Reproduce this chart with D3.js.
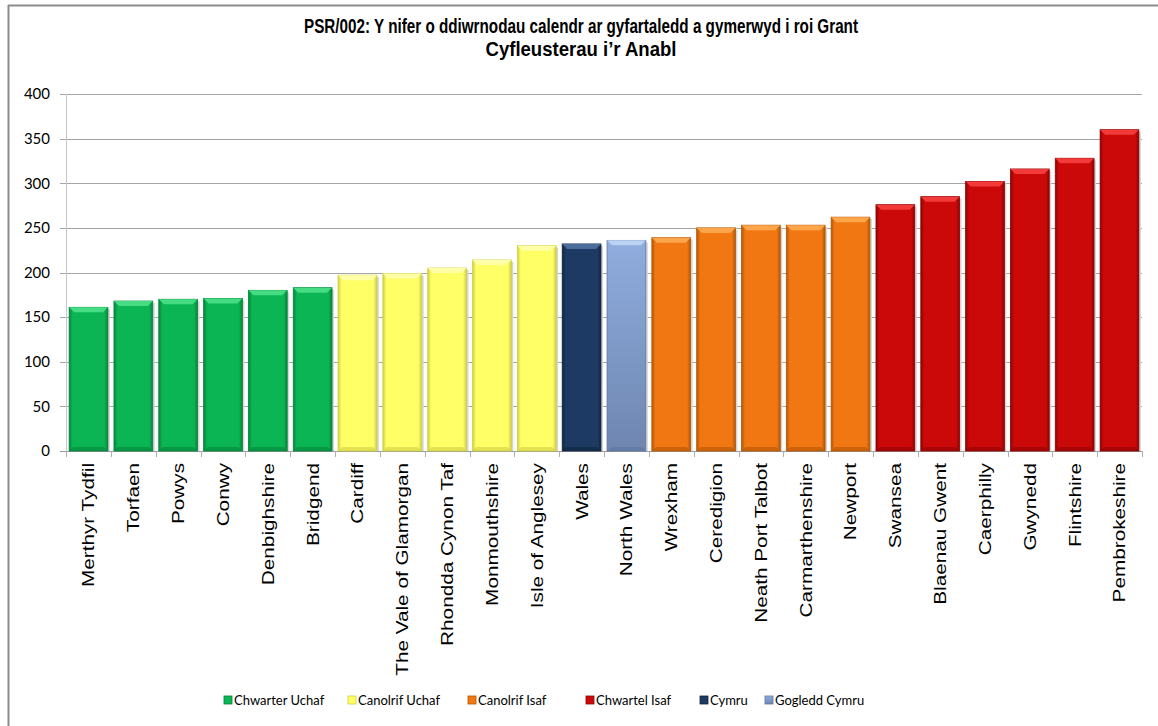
<!DOCTYPE html>
<html>
<head>
<meta charset="utf-8">
<script src="https://cdn.jsdelivr.net/npm/d3@7"></script>
<style>
  body { margin: 0; background: #fff; }
  svg { display: block; }
</style>
</head>
<body>
<script>
const categories = ['Merthyr Tydfil', 'Torfaen', 'Powys', 'Conwy', 'Denbighshire', 'Bridgend',
  'Cardiff', 'The Vale of Glamorgan', 'Rhondda Cynon Taf', 'Monmouthshire', 'Isle of Anglesey',
  'Wales', 'North Wales', 'Wrexham', 'Ceredigion', 'Neath Port Talbot', 'Carmarthenshire',
  'Newport', 'Swansea', 'Blaenau Gwent', 'Caerphilly', 'Gwynedd', 'Flintshire', 'Pembrokeshire'];
const values = [161, 168, 170, 171, 180, 183, 197, 199, 205, 214, 230, 232, 236, 239, 250, 253,
  253, 262, 276, 285, 302, 316, 328, 360];
// group index of every bar (see groupNames)
const groups = [0, 0, 0, 0, 0, 0, 1, 1, 1, 1, 1, 4, 5, 2, 2, 2, 2, 2, 3, 3, 3, 3, 3, 3];
const groupNames = ['Chwarter Uchaf', 'Canolrif Uchaf', 'Canolrif Isaf', 'Chwartel Isaf', 'Cymru', 'Gogledd Cymru'];
const yTicks = [0, 50, 100, 150, 200, 250, 300, 350, 400];

// base, light top, dark edge
const palette = [
  ['#0bb553', '#45dc83', '#06833b'],
  ['#ffff66', '#ffffa8', '#cfcf45'],
  ['#f07712', '#fba64a', '#b45606'],
  ['#cc0909', '#f23a3a', '#8e0303'],
  ['#1d3a62', '#4a6d9c', '#10253f'],
  ['#8aa6d6', '#bcd3f3', '#5d77a0']
];

const W = 1158, H = 726;
const plotLeft = 66, plotRight = 1142, plotTop = 94, plotBottom = 451;

const svg = d3.select('body').append('svg')
  .attr('width', W)
  .attr('height', H);

const defs = svg.append('defs');
palette.forEach(function (p, i) {
  let g = defs.append('linearGradient')
    .attr('id', 'grad' + i)
    .attr('x1', 0).attr('x2', 1).attr('y1', 0).attr('y2', 0);
  g.append('stop').attr('offset', '0%').attr('stop-color', p[2]);
  g.append('stop').attr('offset', '9%').attr('stop-color', p[0]);
  g.append('stop').attr('offset', '91%').attr('stop-color', p[0]);
  g.append('stop').attr('offset', '100%').attr('stop-color', p[2]);
});
// light blue bar is shaded top to bottom as well
let lb = defs.append('linearGradient')
  .attr('id', 'gradLB')
  .attr('x1', 0).attr('x2', 0).attr('y1', 0).attr('y2', 1);
lb.append('stop').attr('offset', '0%').attr('stop-color', '#90addf');
lb.append('stop').attr('offset', '100%').attr('stop-color', '#6e86b0');

// frame
svg.append('line').attr('x1', 8).attr('x2', W).attr('y1', 5.5).attr('y2', 5.5)
  .attr('stroke', '#8c8c8c').attr('stroke-width', 2);
svg.append('line').attr('x1', 8.5).attr('x2', 8.5).attr('y1', 5).attr('y2', H)
  .attr('stroke', '#8c8c8c').attr('stroke-width', 2);

let x = d3.scaleBand().domain(categories).range([plotLeft, plotRight]).paddingInner(0.135).paddingOuter(0.07);
let y = d3.scaleLinear().domain([0, 400]).range([plotBottom, plotTop]);

// gridlines
svg.append('g')
  .selectAll('line')
  .data(yTicks)
  .enter()
  .append('line')
  .attr('x1', plotLeft - 6)
  .attr('x2', plotRight)
  .attr('y1', function (d) { return Math.round(y(d)) + 0.5; })
  .attr('y2', function (d) { return Math.round(y(d)) + 0.5; })
  .attr('stroke', function (d) { return d === 0 ? '#9a9a9a' : '#a6a6a6'; })
  .attr('stroke-width', 1.2);

// y axis line
svg.append('line')
  .attr('x1', plotLeft + 0.5).attr('x2', plotLeft + 0.5)
  .attr('y1', plotTop).attr('y2', plotBottom + 6)
  .attr('stroke', '#c8c8c8');

// category ticks
let step = (plotRight - plotLeft) / categories.length;
svg.append('g')
  .selectAll('line')
  .data(d3.range(categories.length + 1))
  .enter()
  .append('line')
  .attr('x1', function (i) { return Math.round(plotLeft + i * step) + 0.5; })
  .attr('x2', function (i) { return Math.round(plotLeft + i * step) + 0.5; })
  .attr('y1', plotBottom)
  .attr('y2', plotBottom + 6)
  .attr('stroke', '#b0b0b0');

// y labels
svg.append('g')
  .selectAll('text')
  .data(yTicks)
  .enter()
  .append('text')
  .attr('x', 50)
  .attr('y', function (d) { return y(d); })
  .attr('dy', '0.35em')
  .attr('text-anchor', 'end')
  .style('font-family', 'Lato, "Open Sans", sans-serif')
  .style('font-size', '15px')
  .style('fill', '#000')
  .text(function (d) { return d; });

// bars
let bars = svg.append('g')
  .selectAll('g')
  .data(categories.map(function (c, i) { return { name: c, value: values[i], group: groups[i] }; }))
  .enter()
  .append('g');

// shadow
bars.append('rect')
  .attr('x', function (d) { return x(d.name) + 2; })
  .attr('y', function (d) { return y(d.value) + 2; })
  .attr('width', x.bandwidth())
  .attr('height', function (d) { return y(0) - y(d.value) - 2; })
  .style('fill', '#d6d6d6');

bars.append('rect')
  .attr('x', function (d) { return x(d.name); })
  .attr('y', function (d) { return y(d.value); })
  .attr('width', x.bandwidth())
  .attr('height', function (d) { return y(0) - y(d.value); })
  .style('fill', function (d) { return d.group === 5 ? 'url(#gradLB)' : 'url(#grad' + d.group + ')'; })
  .style('stroke', function (d) { return palette[d.group][2]; })
  .style('stroke-width', 0.8);

// top bevel
bars.append('path')
  .attr('d', function (d) {
    let x0 = x(d.name), x1 = x0 + x.bandwidth(), y0 = y(d.value);
    return 'M' + x0 + ',' + y0 + 'L' + x1 + ',' + y0 + 'L' + (x1 - 5) + ',' + (y0 + 5) +
      'L' + (x0 + 5) + ',' + (y0 + 5) + 'Z';
  })
  .style('fill', function (d) { return palette[d.group][1]; });

// bottom bevel
bars.append('path')
  .attr('d', function (d) {
    let x0 = x(d.name), x1 = x0 + x.bandwidth(), y0 = y(0);
    return 'M' + x0 + ',' + y0 + 'L' + x1 + ',' + y0 + 'L' + (x1 - 4) + ',' + (y0 - 4) +
      'L' + (x0 + 4) + ',' + (y0 - 4) + 'Z';
  })
  .style('fill', function (d) { return palette[d.group][2]; })
  .style('opacity', 0.6);

// category labels
svg.append('g')
  .selectAll('text')
  .data(categories)
  .enter()
  .append('text')
  .attr('transform', function (d) {
    return 'translate(' + (x(d) + x.bandwidth() / 2) + ',' + (plotBottom + 12) + ') rotate(-90) scale(1.22,1)';
  })
  .attr('dy', '0.35em')
  .attr('text-anchor', 'end')
  .style('font-family', '"Liberation Sans", Arial, sans-serif')
  .style('font-size', '17px')
  .style('fill', '#000')
  .text(function (d) { return d; });

// title
svg.append('text')
  .attr('x', 581)
  .attr('y', 33)
  .attr('text-anchor', 'middle')
  .attr('textLength', 554)
  .attr('lengthAdjust', 'spacingAndGlyphs')
  .style('font-family', '"Liberation Sans", Arial, sans-serif')
  .style('font-weight', 'bold')
  .style('font-size', '20px')
  .text('PSR/002: Y nifer o ddiwrnodau calendr ar gyfartaledd a gymerwyd  i roi Grant');
svg.append('text')
  .attr('x', 581)
  .attr('y', 56)
  .attr('text-anchor', 'middle')
  .attr('textLength', 191)
  .attr('lengthAdjust', 'spacingAndGlyphs')
  .style('font-family', '"Liberation Sans", Arial, sans-serif')
  .style('font-weight', 'bold')
  .style('font-size', '20px')
  .text('Cyfleusterau i\u2019r Anabl');

// legend
const legendX = [224, 348, 468, 586, 700, 765];
let legend = svg.append('g')
  .selectAll('g')
  .data(groupNames)
  .enter()
  .append('g')
  .attr('transform', function (d, i) { return 'translate(' + legendX[i] + ',700)'; });

legend.append('rect')
  .attr('x', 0)
  .attr('y', -4)
  .attr('width', 8)
  .attr('height', 8)
  .style('fill', function (d, i) { return i === 5 ? 'url(#gradLB)' : palette[i][0]; })
  .style('stroke', function (d, i) { return palette[i][2]; })
  .style('stroke-width', 0.8);

legend.append('text')
  .attr('x', 10)
  .attr('y', 0)
  .attr('dy', '0.35em')
  .style('font-family', 'Lato, "Open Sans", sans-serif')
  .style('font-size', '13px')
  .style('fill', '#000')
  .text(function (d) { return d; });
</script>
</body>
</html>
